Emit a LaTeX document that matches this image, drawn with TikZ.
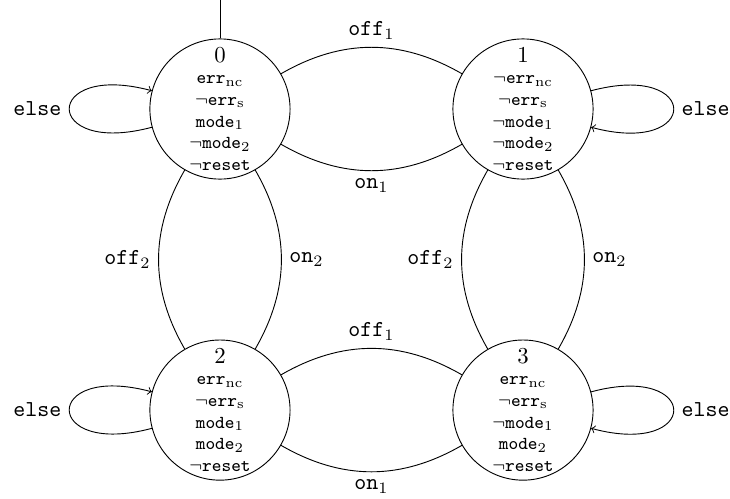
\documentclass[tikz,border=0pt]{standalone}
\usepackage{amsmath}
\usepackage{amssymb}
\usetikzlibrary{automata}

\begin{document}
\begin{tikzpicture}[every state/.style={draw,circle,minimum size=2.16cm,inner sep=0pt,align=center,font=\footnotesize\ttfamily}]

  \useasboundingbox (-3.39,1.68) rectangle (7.86,-6.01);

  \node[state] (q0) {{\normalsize $0$}\\err$_{\mathrm{nc}}$\\$\neg$err$_{\mathrm{s}}$\\mode$_1$\\$\neg$mode$_2$\\$\neg$reset};
  \node[state,right of=q0,xshift=3.67cm] (q1) {{\normalsize $1$}\\$\neg$err$_{\mathrm{nc}}$\\$\neg$err$_{\mathrm{s}}$\\$\neg$mode$_1$\\$\neg$mode$_2$\\$\neg$reset};

  \node[state,below of=q0,yshift=-3.64cm] (q2) {{\normalsize $2$}\\err$_{\mathrm{nc}}$\\$\neg$err$_{\mathrm{s}}$\\mode$_1$\\mode$_2$\\$\neg$reset};
  \node[state,right of=q2,xshift=3.67cm] (q3) {{\normalsize $3$}\\err$_{\mathrm{nc}}$\\$\neg$err$_{\mathrm{s}}$\\$\neg$mode$_1$\\mode$_2$\\$\neg$reset};

  \coordinate[above of=q0,yshift=0.68cm] (init);
  \draw (init) -- (q0);

  \draw[->] (q0) to[loop left] node[left] {\texttt{else}} (q0);
  \draw[->] (q1) to[loop right] node[right] {\texttt{else}} (q1);
  \draw[->] (q2) to[loop left] node[left] {\texttt{else}} (q2);
  \draw[->] (q3) to[loop right] node[right] {\texttt{else}} (q3);

  \draw (q0) to[bend left] node[above] {\texttt{off}$_1$} (q1);
  \draw (q0) to[bend right] node[below] {\texttt{on}$_1$} (q1);
  \draw (q2) to[bend left] node[above] {\texttt{off}$_1$} (q3);
  \draw (q2) to[bend right] node[below] {\texttt{on}$_1$} (q3);

  \draw (q0) to[bend right] node[left] {\texttt{off}$_2$} (q2);
  \draw (q0) to[bend left] node[right] {\texttt{on}$_2$} (q2);
  \draw (q1) to[bend right] node[left] {\texttt{off}$_2$} (q3);
  \draw (q1) to[bend left] node[right] {\texttt{on}$_2$} (q3);

  \end{tikzpicture}
\end{document}
